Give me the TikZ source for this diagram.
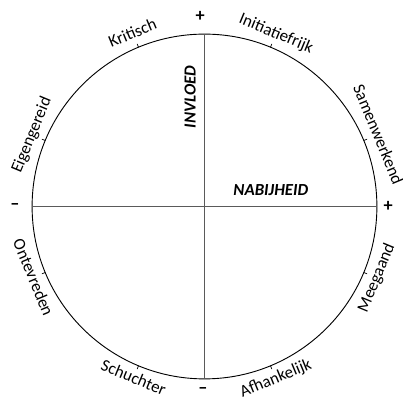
\documentclass[tikz,border=0pt]{standalone}
\usepackage{fontspec}
\setmainfont{Carlito}
\usetikzlibrary{math}
\definecolor{axisgray}{RGB}{90,90,90}

\tikzset{
  lbl/.style={font=\fontsize{12}{14}\selectfont, inner sep=0pt},
  sign/.style={font=\fontsize{13}{14}\selectfont\bfseries, inner sep=0pt},
  axlbl/.style={font=\fontsize{12}{14}\selectfont\bfseries\itshape, inner sep=0pt},
  axis/.style={draw=axisgray, line width=1.2pt}
}

\begin{document}
\begin{tikzpicture}
\tikzmath{
\R=4.31;
\T=0.09;
\G=0.25;
\H=0.16;
}
\useasboundingbox (-5.1125,-4.8375) rectangle (4.9625,5.1625);

\draw[line width=0.65pt] (0,0) circle (\R);
\coordinate (top) at (90:\R);
\coordinate (bot) at (270:\R);
\coordinate (west) at (180:\R);
\coordinate (east) at (0:\R);
\draw[axis] (top) -- (bot);
\draw[axis] (west) -- (east);

% ticks
\foreach \a in {22.5,67.5,...,337.5}
  \draw[line width=0.5pt] (\a:\R) -- (\a:\R+\T);

% upper half
\foreach \a/\txt/\nm in {112.5/Kritisch/krit, 67.5/Initiatiefrijk/init, 22.5/Samenwerkend/samen, 157.5/Eigengereid/eigen}
  \node[lbl, anchor=base, rotate=\a-90] (\nm) at (\a:\R+\G) {\txt};
% lower half
\foreach \a/\txt/\nm in {202.5/Ontevreden/onte, 247.5/Schuchter/schu, 292.5/Afhankelijk/afh, 337.5/Meegaand/mee}
  \node[lbl, anchor=north, rotate=\a+90] (\nm) at (\a:\R+\H) {\txt};

\node[sign] (plustop) at (-0.11,4.76) {+};
\node[sign] (minbot) at (-0.04,-4.6) {--};
\node[sign] (minwest) at (-4.74,0) {--};
\node[sign] (pluseast) at (4.59,0) {+};

\node[axlbl, rotate=90] (invloed) at (-0.36,2.74) {INVLOED};
\node[axlbl] (nabij) at (1.66,0.41) {NABIJHEID};

\end{tikzpicture}
\end{document}
